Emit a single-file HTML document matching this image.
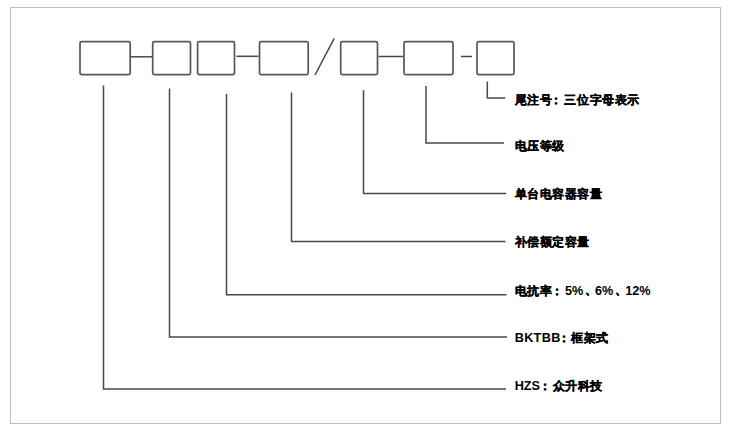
<!DOCTYPE html>
<html><head><meta charset="utf-8">
<style>
html,body{margin:0;padding:0;background:#fff;}
body{width:730px;height:430px;position:relative;overflow:hidden;font-family:"Liberation Sans",sans-serif;}
svg{position:absolute;left:0;top:0;}
.t{position:absolute;left:514.7px;font-size:12px;font-weight:bold;color:#000;white-space:nowrap;line-height:14px;}
.c{letter-spacing:0.55px;-webkit-text-stroke:0.3px #000;}
.d{margin-left:2px;margin-right:-2.2px;position:relative;top:-1.5px;-webkit-text-stroke:0.5px #000;font-size:12px;}
.l{font-size:12.7px;}
</style></head><body>
<svg width="730" height="430" viewBox="0 0 730 430">
<rect x="10.5" y="7.5" width="710" height="416" fill="none" stroke="#bdbdbd" stroke-width="1"/>
<g fill="none" stroke="#575757" stroke-width="1.7">
<rect x="80" y="41.6" width="50.2" height="33" rx="1.6"/>
<rect x="152.7" y="41.6" width="37.8" height="33" rx="1.6"/>
<rect x="197.6" y="41.6" width="36.9" height="33" rx="1.6"/>
<rect x="259.5" y="41.6" width="48.7" height="33" rx="1.6"/>
<rect x="340.7" y="41.6" width="36.8" height="33" rx="1.6"/>
<rect x="404" y="41.6" width="49" height="33" rx="1.6"/>
<rect x="477" y="41.6" width="37" height="33" rx="1.6"/>
</g>
<g fill="none" stroke="#484848" stroke-width="1.5">
<line x1="131" y1="56.8" x2="152" y2="56.8"/>
<line x1="236.5" y1="56.3" x2="258.5" y2="56.3"/>
<line x1="378.5" y1="56.5" x2="403" y2="56.5"/>
<line x1="461" y1="56.5" x2="472" y2="56.5"/>
<line x1="315" y1="75" x2="334.2" y2="38.3"/>
<polyline points="103.5,85.5 103.5,389 506,389"/>
<polyline points="169.5,88.5 169.5,337 507,337"/>
<polyline points="226.5,94 226.5,294.8 506.5,294.8"/>
<polyline points="291.5,92.5 291.5,241.4 505.5,241.4"/>
<polyline points="363.5,90 363.5,193.5 506,193.5"/>
<polyline points="426,86 426,143 504,143"/>
<polyline points="487.3,81.5 487.3,98 505.3,98"/>
</g>
</svg>
<div class="t c" style="top:93px">尾注号<span style="margin-left:-2px;margin-right:1.5px">：</span>三位字母表示</div>
<div class="t c" style="top:139px">电压等级</div>
<div class="t c" style="top:187px">单台电容器容量</div>
<div class="t c" style="top:235px">补偿额定容量</div>
<div class="t" style="top:284px"><span class="c">电抗率<span style="margin-left:-1.5px;margin-right:1.5px">：</span></span><span class="l">5%<span class="d">、</span>6%<span class="d">、</span>12%</span></div>
<div class="t" style="top:331px"><span class="l" style="letter-spacing:0.3px;margin-right:-3px">BKTBB</span><span class="c">：<span style="margin-left:1px">框架式</span></span></div>
<div class="t" style="top:379px"><span class="l" style="letter-spacing:0px;margin-right:-1.5px">HZS</span><span class="c">：<span style="margin-left:1.5px">众升科技</span></span></div>
</body></html>
